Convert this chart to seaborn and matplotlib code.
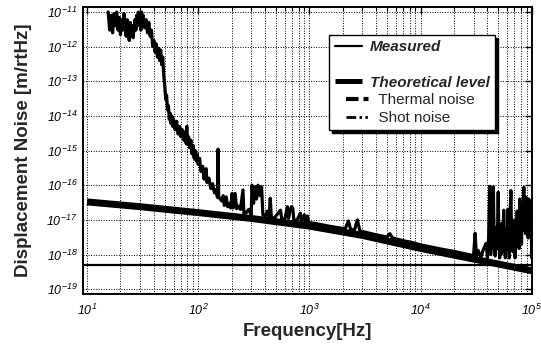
import numpy as np
import pandas as pd
import matplotlib
matplotlib.use("Agg")
import matplotlib.pyplot as plt
import seaborn as sns
from matplotlib.lines import Line2D
from matplotlib.legend_handler import HandlerLine2D
from matplotlib.ticker import FuncFormatter, LogLocator, NullLocator, FixedLocator

# ---------------- data ----------------
meas_freq = [
    15.5, 16.0, 16.5, 17.0, 17.5, 18.0, 18.5, 19.0, 19.5, 20.0, 20.5, 21.0, 21.5, 22.0, 22.5,
    23.0, 23.5, 24.0, 24.5, 25.0, 25.5, 26.0, 26.5, 27.0, 27.5, 28.0, 28.5, 29.0, 29.5, 30.0,
    30.5, 31.0, 31.5, 32.0, 33.0, 34.0, 35.0, 36.0, 37.0, 38.0, 39.0, 40.0, 41.0, 42.0, 43.0,
    44.0, 45.0, 46.0, 47.0, 48.0, 49.0, 50.0, 51.0, 52.0, 53.0, 54.0, 55.0, 56.0, 57.0, 58.0,
    59.0, 60.0, 62.0, 64.0, 66.0, 68.0, 70.0, 72.0, 74.0, 76.0, 78.0, 79.0, 80.0, 82.0, 84.0,
    86.0, 88.0, 90.0, 92.0, 94.0, 96.0, 98.0, 100.0, 103.0, 106.0, 110.0, 113.0, 116.0, 118.0, 120.0,
    125.0, 130.0, 135.0, 140.0, 145.0, 149.0, 151.0, 153.0, 158.0, 163.0, 168.0, 172.0, 179.0, 184.0, 190.0,
    196.0, 202.0, 207.0, 215.0, 222.0, 230.0, 240.0, 253.0, 258.0, 270.0, 285.0, 300.0, 305.0, 315.0, 325.0,
    335.0, 345.0, 360.0, 372.0, 382.0, 400.0, 420.0, 435.0, 445.0, 455.0, 480.0, 520.0, 550.0, 565.0, 600.0,
    635.0, 650.0, 670.0, 690.0, 710.0, 725.0, 770.0, 830.0, 850.0, 900.0, 920.0, 960.0, 990.0, 1100.0, 1300.0,
    1500.0, 1800.0, 2100.0, 2250.0, 2350.0, 2550.0, 2700.0, 2850.0, 3200.0, 4000.0, 5000.0, 5300.0, 5600.0, 7000.0, 8500.0,
    10000.0, 13000.0, 16000.0, 20000.0, 25000.0, 30000.0, 31000.0, 31800.0, 33000.0, 35000.0, 37000.0, 39000.0, 40000.0, 41000.0, 42000.0,
    42800.0, 43500.0, 44300.0, 45200.0, 46000.0, 47000.0, 48000.0, 49000.0, 50000.0, 50800.0, 51500.0, 52200.0, 53000.0, 54000.0, 55000.0,
    56000.0, 57000.0, 58000.0, 59000.0, 60000.0, 61000.0, 62000.0, 63000.0, 64000.0, 65000.0, 66000.0, 67000.0, 68000.0, 69000.0, 70000.0,
    71000.0, 72000.0, 73000.0, 74000.0, 75000.0, 76000.0, 77000.0, 78000.0, 79000.0, 80000.0, 81000.0, 82000.0, 83000.0, 84000.0, 85000.0,
    86000.0, 87000.0, 88000.0, 89000.0, 90000.0, 91000.0, 92000.0, 93000.0, 94000.0, 95000.0, 96000.0, 97000.0, 98000.0, 99000.0, 100000.0,
]
meas_val = [
    1.0e-11, 3e-12, 8e-12, 2.5e-12, 9e-12, 4e-12, 1e-11, 3e-12, 7e-12, 2.2e-12, 6e-12, 3e-12, 9e-12, 4e-12, 2e-12,
    6e-12, 2.5e-12, 1.5e-12, 5e-12, 2e-12, 4e-12, 1.8e-12, 3.5e-12, 6e-12, 3e-12, 8e-12, 4e-12, 1e-11, 5e-12, 9e-12,
    3e-12, 1e-11, 4e-12, 8e-12, 3.5e-12, 6e-12, 2.5e-12, 5e-12, 2e-12, 3e-12, 1.0e-12, 1.5e-12, 7e-13, 1.2e-12, 5e-13,
    9e-13, 4e-13, 8e-13, 3e-13, 5e-13, 1.5e-13, 8e-14, 3e-14, 4e-14, 1.5e-14, 2e-14, 8e-15, 1.2e-14, 6e-15, 1e-14,
    5e-15, 8e-15, 4e-15, 7e-15, 3e-15, 5e-15, 2.5e-15, 4e-15, 2e-15, 3.5e-15, 1.6e-15, 5e-15, 1.5e-15, 2.5e-15, 1.2e-15,
    2e-15, 8e-16, 1.4e-15, 6e-16, 1e-15, 5e-16, 8e-16, 4e-16, 6e-16, 2.5e-16, 3.5e-16, 1.5e-16, 2.5e-16, 3e-16, 1.2e-16,
    1.6e-16, 8e-17, 1.1e-16, 6e-17, 7.5e-17, 4.5e-17, 1.1e-15, 4.5e-17, 4e-17, 3.5e-17, 5e-17, 2.6e-17, 4.6e-17, 2.4e-17, 3e-17,
    2.2e-17, 5.8e-17, 2.2e-17, 5.8e-17, 2.1e-17, 2.5e-17, 2e-17, 7.3e-17, 1.5e-17, 1.6e-17, 2e-17, 1.4e-17, 1e-16, 3e-17, 9e-17,
    4e-17, 1e-16, 5e-17, 9e-17, 1.4e-17, 1.25e-17, 1.8e-17, 1.2e-17, 4.2e-17, 1.2e-17, 1.1e-17, 1.5e-17, 1.9e-17, 1.05e-17, 1e-17,
    2.4e-17, 1.1e-17, 1.8e-17, 2.4e-17, 2.2e-17, 1e-17, 9.5e-18, 1.55e-17, 9e-18, 1.4e-17, 8.8e-18, 1.3e-17, 8.3e-18, 8e-18, 7.2e-18,
    6.6e-18, 6e-18, 5.5e-18, 9.3e-18, 5.3e-18, 5.1e-18, 1e-17, 4.8e-18, 4.4e-18, 3.7e-18, 3.2e-18, 4e-18, 3e-18, 2.5e-18, 2.2e-18,
    1.9e-18, 1.6e-18, 1.4e-18, 1.23e-18, 1.05e-18, 9.3e-19, 4.1e-18, 9e-19, 1.3e-18, 8.5e-19, 1.5e-18, 2.1e-18, 8e-19, 3e-18, 9.3e-17,
    1e-18, 2e-17, 1.5e-18, 9e-17, 2e-18, 9e-19, 6e-18, 1.5e-18, 6.3e-17, 2e-18, 8e-19, 4e-18, 1e-18, 8e-18, 1.2e-18,
    1.9e-17, 2e-18, 8e-19, 5e-18, 1.5e-18, 2e-17, 3e-18, 8e-19, 1.5e-17, 7e-17, 2e-18, 1e-17, 1.2e-18, 5.6e-18, 2e-18,
    8e-19, 1e-17, 3e-18, 1.8e-17, 4e-18, 1.2e-17, 1.5e-18, 4e-17, 3e-18, 1.5e-17, 2e-18, 2.5e-17, 5e-18, 3e-17, 8.7e-17,
    6e-18, 2e-17, 4e-18, 4.5e-17, 8e-18, 3e-17, 2e-17, 3e-18, 4e-17, 6e-18, 3e-17, 5e-18, 3.5e-17, 1e-17, 8e-19,
]

theory_freq = [10, 30, 100, 300, 1000, 3000, 10000, 30000, 100000]
theory_val = [3.3e-17, 2.4e-17, 1.62e-17, 1.1e-17, 6.6e-18, 3.55e-18, 1.5e-18, 7.4e-19, 3.4e-19]

shot_freq = [9.2, 101000]
shot_val = [5.1e-19, 5.1e-19]

x_ticks = [1e1, 1e2, 1e3, 1e4, 1e5]
y_ticks = [1e-19, 1e-18, 1e-17, 1e-16, 1e-15, 1e-14, 1e-13, 1e-12, 1e-11]

legend_labels = ["Measured", " ", "Theoretical level", "  Thermal noise", "  Shot noise"]

# ---------------- style ----------------
sns.set_style("white")
plt.rcParams["font.family"] = ["Liberation Sans", "DejaVu Sans"]
plt.rcParams["mathtext.fontset"] = "custom"
plt.rcParams["mathtext.rm"] = "Liberation Sans:italic"
plt.rcParams["mathtext.it"] = "Liberation Sans:italic"
plt.rcParams["mathtext.bf"] = "Liberation Sans:bold"

fig = plt.figure(figsize=(5.41, 3.45), dpi=100)
ax = fig.add_axes([0.1534, 0.1478, 0.83, 0.831])
ax.set_xscale("log")
ax.set_yscale("log")

df_meas = pd.DataFrame({"f": meas_freq, "v": meas_val})
df_th = pd.DataFrame({"f": theory_freq, "v": theory_val})
df_shot = pd.DataFrame({"f": shot_freq, "v": shot_val})

sns.lineplot(data=df_meas, x="f", y="v", ax=ax, color="black", linewidth=2.3,
             estimator=None, sort=False, zorder=3)
sns.lineplot(data=df_th, x="f", y="v", ax=ax, color="black", linewidth=5.0,
             estimator=None, sort=False, zorder=4, solid_capstyle="butt")
sns.lineplot(data=df_shot, x="f", y="v", ax=ax, color="black", linewidth=1.6,
             estimator=None, sort=False, zorder=4)

ax.set_xlim(10 ** 0.964, 10 ** 5.003)
ax.set_ylim(10 ** -19.14, 10 ** -10.865)

# ticks
ax.xaxis.set_major_locator(FixedLocator(x_ticks))
ax.xaxis.set_minor_locator(LogLocator(base=10, subs=np.arange(2, 10), numticks=20))
ax.yaxis.set_major_locator(FixedLocator(y_ticks))
ax.yaxis.set_minor_locator(NullLocator())
fmt = FuncFormatter(lambda v, p: r"$\mathrm{10^{%d}}$" % int(round(np.log10(v))))
ax.xaxis.set_major_formatter(fmt)
ax.yaxis.set_major_formatter(fmt)
ax.tick_params(which="both", direction="in", top=True, right=True, colors="black",
               labelsize=9)
ax.tick_params(which="major", length=5, width=1.0)
ax.tick_params(which="minor", length=3, width=0.8)
ax.tick_params(axis="x", which="major", pad=6)
ax.tick_params(axis="y", which="major", pad=4)

ax.grid(True, which="major", axis="both", color="black", linestyle=(0, (1, 1.6)), linewidth=0.7)
ax.grid(True, which="minor", axis="x", color="black", linestyle=(0, (1, 1.6)), linewidth=0.7)

for s in ax.spines.values():
    s.set_color("black")
    s.set_linewidth(1.4)

ax.set_xlabel("Frequency[Hz]", fontsize=13.5, fontweight="bold", labelpad=4)
ax.set_ylabel("Displacement Noise [m/rtHz]", fontsize=13.5, fontweight="bold", labelpad=10)


# legend
class IndentHandler(HandlerLine2D):
    def __init__(self, frac=0.42, **kw):
        super().__init__(**kw)
        self.frac = frac

    def create_artists(self, legend, orig_handle, xdescent, ydescent, width, height, fontsize, trans):
        shift = self.frac * width
        return super().create_artists(legend, orig_handle, xdescent - shift, ydescent,
                                      width - 0.15 * width, height, fontsize, trans)


h_meas = Line2D([], [], color="black", lw=1.6)
h_blank = Line2D([], [], color="none", lw=0)
h_theo = Line2D([], [], color="black", lw=3.6, solid_capstyle="butt")
h_therm = Line2D([], [], color="black", lw=3.0, dashes=(3, 1.2, 1.2, 1.2, 1.2, 1.2), dash_capstyle="butt")
h_shot = Line2D([], [], color="black", lw=2.0, dashes=(3.5, 1.2, 0.9, 1.2, 0.9, 1.2, 0.9, 1.2), dash_capstyle="butt")

leg = ax.legend([h_meas, h_blank, h_theo, h_therm, h_shot], legend_labels,
                loc="upper right", bbox_to_anchor=(0.918, 0.903),
                fontsize=11, frameon=True, fancybox=False,
                shadow={"color": "black", "alpha": 1.0},
                handlelength=1.8, handletextpad=0.5, borderpad=0.35,
                labelspacing=0.24, borderaxespad=0.0,
                handler_map={h_therm: IndentHandler(), h_shot: IndentHandler()})
leg.get_frame().set_edgecolor("black")
leg.get_frame().set_linewidth(1.0)
leg.get_frame().set_facecolor("white")
leg.set_zorder(10)
texts = leg.get_texts()
for i in (0, 2):
    texts[i].set_fontweight("bold")
    texts[i].set_fontstyle("italic")

fig.savefig("out.png", dpi=100)
